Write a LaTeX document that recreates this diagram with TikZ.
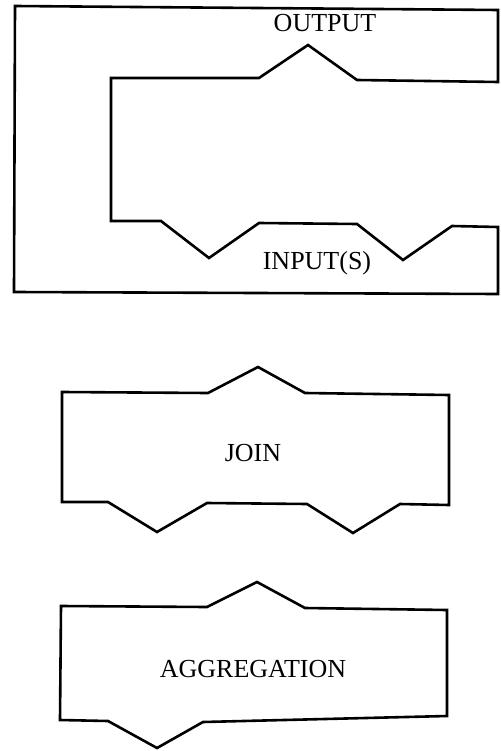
\documentclass[tikz,border=0pt]{standalone}
\usepackage{fontspec}
\setmainfont{Liberation Serif}
\tikzset{
  shapeline/.style={draw=black, line width=2.6pt, line join=miter},
  lbl/.style={anchor=base, inner sep=0pt, font=\fontsize{26}{30}\selectfont}
}
\begin{document}
\begin{tikzpicture}[x=1pt,y=-1pt]
\useasboundingbox (0,0) rectangle (500,751);
% Outer C-shaped frame with output/input notches
\draw[shapeline] (15,6) -- (498,10) -- (498,82) -- (357,80) -- (308,45) -- (259,78)
  -- (111,78) -- (111,221) -- (161,221) -- (209,258) -- (259,223) -- (357,224)
  -- (403,260) -- (452,226) -- (498,227) -- (498,294) -- (14,292) -- cycle;
\node[lbl] (output) at (325,32) {OUTPUT};
\node[lbl] (inputs) at (317,269) {INPUT(S)};
% JOIN shape
\draw[shapeline] (62,392) -- (208,393) -- (258,367) -- (305,393) -- (449,395)
  -- (449,505) -- (400,504) -- (353,533) -- (307,504) -- (207,503) -- (157,532)
  -- (108,502) -- (62,502) -- cycle;
\node[lbl] (join) at (253,461) {JOIN};
% AGGREGATION shape
\draw[shapeline] (61,606) -- (207,607) -- (257,582) -- (305,608) -- (447,610)
  -- (447,716) -- (203,722) -- (157,748) -- (108,721) -- (60,720) -- cycle;
\node[lbl] (agg) at (253,677) {AGGREGATION};
\end{tikzpicture}
\end{document}
